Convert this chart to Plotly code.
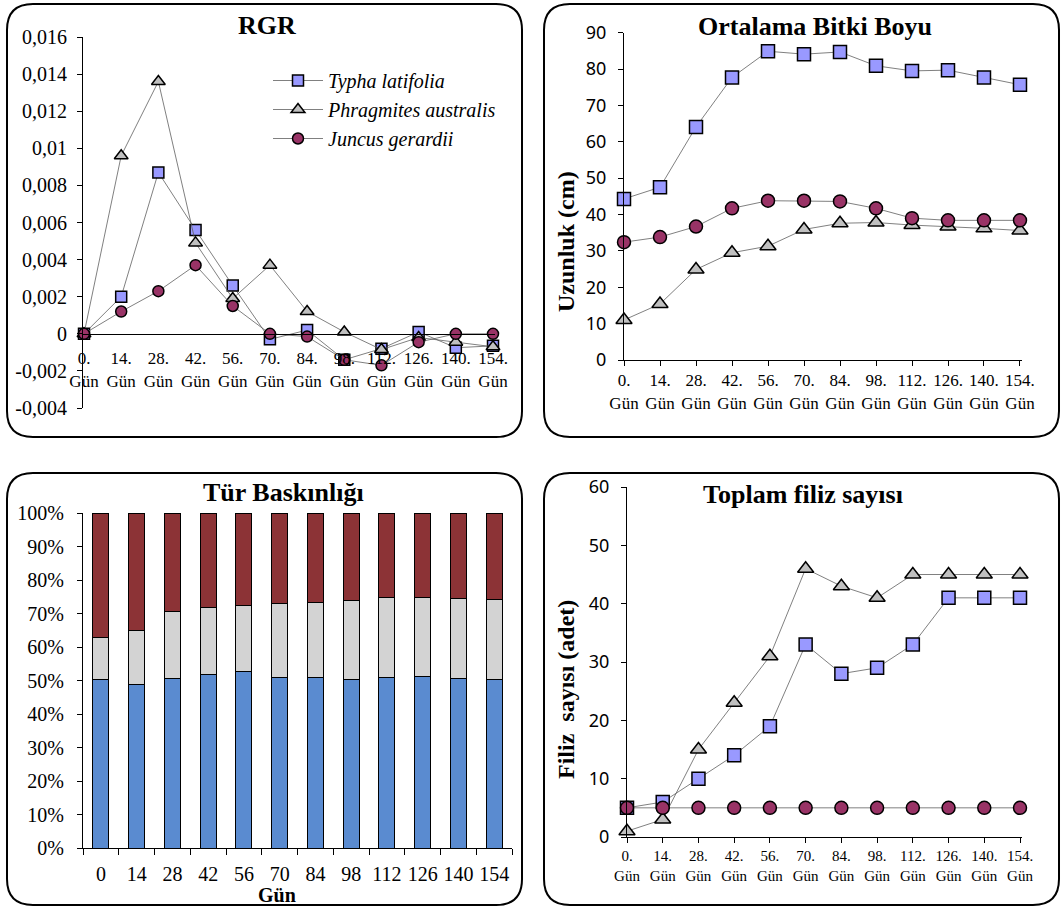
import plotly.graph_objects as go

W, H = 1062, 908

# ---------------- data ----------------
days = [0, 14, 28, 42, 56, 70, 84, 98, 112, 126, 140, 154]
day_labels = [f"{d}.<br>Gün" for d in days]
bar_labels = [str(d) for d in days]

species = ["Typha latifolia", "Phragmites australis", "Juncus gerardii"]

rgr_typha = [0, 0.0020, 0.0087, 0.0056, 0.0026, -0.0003, 0.0002, -0.0014, -0.0008, 0.0001, -0.00075, -0.00065]
rgr_phrag = [0, 0.0096, 0.0136, 0.0049, 0.0019, 0.0037, 0.0012, 0.0001, -0.00085, -0.0002, -0.00045, -0.0007]
rgr_juncus = [0, 0.0012, 0.0023, 0.0037, 0.0015, 0, -0.00015, -0.0014, -0.0017, -0.00045, 0, 0]
rgr_tickvals = [-0.004, -0.002, 0, 0.002, 0.004, 0.006, 0.008, 0.01, 0.012, 0.014, 0.016]
rgr_ticktext = ["-0,004", "-0,002", "0", "0,002", "0,004", "0,006", "0,008", "0,01", "0,012", "0,014", "0,016"]

height_typha = [44.3, 47.5, 64.1, 77.7, 84.9, 84.1, 84.7, 80.9, 79.5, 79.7, 77.7, 75.7]
height_phrag = [11.0, 15.4, 24.9, 29.5, 31.3, 35.9, 37.6, 37.8, 37.1, 36.7, 36.2, 35.6]
height_juncus = [32.4, 33.8, 36.7, 41.7, 43.8, 43.8, 43.6, 41.7, 39.0, 38.4, 38.4, 38.4]

dom_typha = [50.2, 48.8, 50.7, 51.9, 52.7, 51.0, 50.8, 50.2, 50.8, 51.1, 50.7, 50.4]
dom_phrag = [12.7, 16.1, 19.9, 20.0, 19.8, 22.1, 22.6, 23.6, 23.9, 23.8, 23.8, 23.7]
dom_juncus = [37.1, 35.1, 29.4, 28.1, 27.5, 26.9, 26.6, 26.2, 25.3, 25.1, 25.5, 25.9]

shoot_typha = [5, 6, 10, 14, 19, 33, 28, 29, 33, 41, 41, 41]
shoot_phrag = [1, 3, 15, 23, 31, 46, 43, 41, 45, 45, 45, 45]
shoot_juncus = [5, 5, 5, 5, 5, 5, 5, 5, 5, 5, 5, 5]

# ---------------- style ----------------
SERIF = "Liberation Serif"
SANS = "Noto Sans"
sym = ["square", "triangle-up", "circle"]
fills = ["#9999FF", "#C0C0C0", "#993366"]
bar_colors = ["#5A8BD0", "#D3D3D3", "#8C3336"]


def px(x):
    return x / W


def py(y):
    return 1 - y / H


fig = go.Figure()

panels = [
    ("x", "y", [rgr_typha, rgr_phrag, rgr_juncus], 11, True),
    ("x2", "y2", [height_typha, height_phrag, height_juncus], 13, False),
    ("x4", "y4", [shoot_typha, shoot_phrag, shoot_juncus], 13, False),
]
for xa, ya, series, msize, show in panels:
    for i, vals in enumerate(series):
        fig.add_trace(go.Scatter(
            x=days, y=vals, xaxis=xa, yaxis=ya,
            name=f"<i>{species[i]}</i>", showlegend=show,
            mode="lines+markers", cliponaxis=False,
            line=dict(color="#606060", width=0.8),
            marker=dict(symbol=sym[i], size=msize if i != 1 else msize + 1,
                        color=fills[i], line=dict(color="black", width=1.5)),
        ))

for i, vals in enumerate([dom_typha, dom_phrag, dom_juncus]):
    fig.add_trace(go.Bar(
        x=bar_labels, y=vals, xaxis="x3", yaxis="y3", name=species[i],
        showlegend=False, marker=dict(color=bar_colors[i], line=dict(color="black", width=1)),
    ))

axis_common = dict(showline=True, linecolor="black", linewidth=1, showgrid=False,
                   zeroline=False, ticks="outside", tickcolor="black", automargin=False)

fig.update_layout(
    width=W, height=H, autosize=False, template="none",
    margin=dict(l=0, r=0, t=0, b=0, autoexpand=False),
    paper_bgcolor="white", plot_bgcolor="rgba(0,0,0,0)",
    barmode="stack", bargap=0.55,
    font=dict(family=SERIF, color="black"),
    # Panel 1 : RGR
    xaxis=dict(axis_common, domain=[px(83), px(495)], range=[-0.38, 154.75],
               anchor="free", position=py(334), tickvals=days, ticktext=day_labels,
               ticks="", ticklabelstandoff=9, tickfont=dict(family=SERIF, size=17)),
    yaxis=dict(axis_common, domain=[py(408), py(37)], range=[-0.004, 0.016],
               anchor="x", tickvals=rgr_tickvals, ticktext=rgr_ticktext, ticklen=5,
               ticklabelstandoff=6, tickfont=dict(family=SERIF, size=20)),
    # Panel 2 : Ortalama Bitki Boyu
    xaxis2=dict(axis_common, domain=[px(624), px(1022)], range=[0, 154.78], anchor="y2",
                tickvals=days, ticktext=day_labels, ticklen=5,
                tickfont=dict(family=SERIF, size=17)),
    yaxis2=dict(axis_common, domain=[py(360), py(32.7)], range=[0, 90], dtick=10,
                anchor="x2", ticklen=5, ticklabelstandoff=8,
                tickfont=dict(family=SANS, size=18)),
    # Panel 3 : Tür Baskınlığı
    xaxis3=dict(axis_common, domain=[px(83), px(512)], anchor="y3", type="category",
                tickson="boundaries", ticklen=6, tickangle=0, ticklabelstandoff=8,
                tickfont=dict(family=SERIF, size=20)),
    yaxis3=dict(axis_common, domain=[py(848), py(513)], range=[0, 100], dtick=10,
                ticksuffix="%", anchor="x3", ticklen=5, ticklabelstandoff=9,
                tickfont=dict(family=SERIF, size=20)),
    # Panel 4 : Toplam filiz sayısı
    xaxis4=dict(axis_common, domain=[px(627), px(1022)], range=[0, 154.78], anchor="y4",
                tickvals=days, ticktext=day_labels, ticklen=5,
                tickfont=dict(family=SERIF, size=15)),
    yaxis4=dict(axis_common, domain=[py(837), py(487)], range=[0, 60], dtick=10,
                anchor="x4", ticklen=5, ticklabelstandoff=8,
                tickfont=dict(family=SANS, size=18)),
    legend=dict(x=px(268), y=py(61), xanchor="left", yanchor="top", traceorder="normal",
                bgcolor="rgba(0,0,0,0)", font=dict(family=SERIF, size=20),
                tracegroupgap=0, itemwidth=50),
)


def rounded(x0, y0, x1, y1, r):
    pts = [
        ("M", [(x0 + r, y0)]), ("L", [(x1 - r, y0)]), ("Q", [(x1, y0), (x1, y0 + r)]),
        ("L", [(x1, y1 - r)]), ("Q", [(x1, y1), (x1 - r, y1)]), ("L", [(x0 + r, y1)]),
        ("Q", [(x0, y1), (x0, y1 - r)]), ("L", [(x0, y0 + r)]), ("Q", [(x0, y0), (x0 + r, y0)]),
    ]
    s = ""
    for cmd, ps in pts:
        s += cmd + " " + " ".join(f"{px(a):.5f},{py(b):.5f}" for a, b in ps) + " "
    return s + "Z"


boxes = [(7, 4, 522, 437), (544, 4, 1059, 437), (7, 473, 522, 905), (544, 473, 1059, 905)]
for b in boxes:
    fig.add_shape(type="path", path=rounded(*b, 26), xref="paper", yref="paper",
                  line=dict(color="black", width=2), fillcolor="rgba(0,0,0,0)", layer="below")

titles = [("RGR", 267, 25), ("Ortalama Bitki Boyu", 815, 27),
          ("Tür Baskınlığı", 283, 493), ("Toplam filiz sayısı", 803, 495)]
for t, x, y in titles:
    fig.add_annotation(text=f"<b>{t}</b>", x=px(x), y=py(y), xref="paper", yref="paper",
                       showarrow=False, xanchor="center", yanchor="middle",
                       font=dict(family=SERIF, size=26, color="black"))

ytitles = [("Uzunluk (cm)", 566, 242), ("Filiz\u00a0 sayısı (adet)", 566, 690)]
for t, x, y in ytitles:
    fig.add_annotation(text=f"<b>{t}</b>", x=px(x), y=py(y), xref="paper", yref="paper",
                       showarrow=False, textangle=-90, xanchor="center", yanchor="middle",
                       font=dict(family=SERIF, size=24, color="black"))

fig.add_annotation(text="<b>Gün</b>", x=px(277), y=py(895), xref="paper", yref="paper",
                   showarrow=False, xanchor="center", yanchor="middle",
                   font=dict(family=SERIF, size=20, color="black"))

fig.write_html("out.html")
